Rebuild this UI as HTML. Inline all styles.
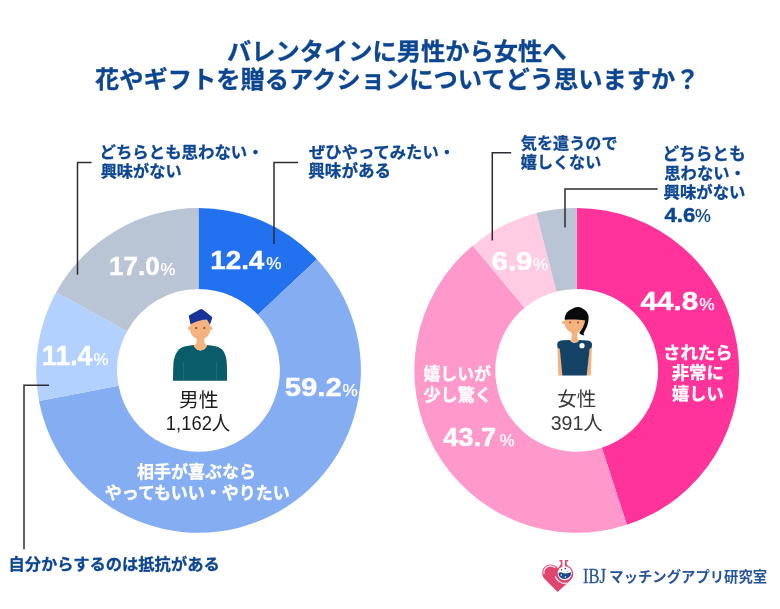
<!DOCTYPE html>
<html lang="ja">
<head>
<meta charset="utf-8">
<title>バレンタインに男性から女性へ花やギフトを贈るアクションについてどう思いますか？</title>
<style>
html,body{margin:0;padding:0;background:#fff;}
body{width:780px;height:609px;overflow:hidden;position:relative;font-family:"Liberation Sans","Noto Sans CJK JP",sans-serif;}
svg{position:absolute;left:0;top:0;display:block;}
.jb{font-family:"Liberation Sans","Noto Sans CJK JP",sans-serif;font-weight:700;stroke-width:.3px;stroke-linejoin:round;}
.jm{font-family:"Liberation Sans","Noto Sans CJK JP",sans-serif;font-weight:500;}
.jr{font-family:"Liberation Sans","Noto Sans CJK JP",sans-serif;font-weight:400;}
.nb{font-family:"Liberation Sans",sans-serif;font-weight:700;stroke-width:.4px;}
.nr{font-family:"Liberation Sans",sans-serif;font-weight:400;stroke-width:.25px;}
.ser{font-family:"Liberation Serif",serif;font-weight:400;stroke-width:.3px;}
.ld{fill:none;stroke:#2c2c32;stroke-width:1.5;}
</style>
</head>
<body>
<svg width="780" height="609" viewBox="0 0 780 609">
<rect width="780" height="609" fill="#fff"/>
<!-- donuts -->
<path d="M198.50 208.00A162.4 162.4 0 0 1 316.88 259.23L257.84 314.68A81.4 81.4 0 0 0 198.50 289.00Z" fill="#2272f0"/>
<path d="M316.88 259.23A162.4 162.4 0 1 1 39.03 401.11L118.57 385.79A81.4 81.4 0 1 0 257.84 314.68Z" fill="#85adf2"/>
<path d="M39.03 401.11A162.4 162.4 0 0 1 56.12 292.29L127.13 331.25A81.4 81.4 0 0 0 118.57 385.79Z" fill="#b3d1ff"/>
<path d="M56.12 292.29A162.4 162.4 0 0 1 198.50 208.00L198.50 289.00A81.4 81.4 0 0 0 127.13 331.25Z" fill="#b9c4d4"/>
<path d="M576.70 208.00A162.4 162.4 0 0 1 626.88 524.85L601.85 447.82A81.4 81.4 0 0 0 576.70 289.00Z" fill="#ff3399"/>
<path d="M626.88 524.85A162.4 162.4 0 0 1 472.75 245.63L524.60 307.86A81.4 81.4 0 0 0 601.85 447.82Z" fill="#ff99cc"/>
<path d="M472.75 245.63A162.4 162.4 0 0 1 536.31 213.10L556.46 291.56A81.4 81.4 0 0 0 524.60 307.86Z" fill="#ffcce4"/>
<path d="M536.31 213.10A162.4 162.4 0 0 1 576.70 208.00L576.70 289.00A81.4 81.4 0 0 0 556.46 291.56Z" fill="#b9c4d4"/>
<!-- leader lines -->
<path class="ld" d="M91.6 162.4H77.5V274.8"/>
<path class="ld" d="M298.1 162.4H274V244"/>
<path class="ld" d="M49 385.2H24V549.2"/>
<path class="ld" d="M511.2 152.7H492.3V240.4"/>
<path class="ld" d="M657.7 188.9H565V227.5"/>
<!-- text -->
<text class="jb" stroke="#0d4690" stroke-width=".55" x="227.00" y="59.85" font-size="24.25" fill="#0d4690">バレンタインに男性から女性へ</text>
<text class="jb" stroke="#0d4690" stroke-width=".55" x="94.95" y="88.40" font-size="24.28" fill="#0d4690">花やギフトを贈るアクションについてどう思いますか？</text>
<text class="jb" stroke="#0d4690" x="99.50" y="158.00" font-size="16.43" fill="#0d4690">どちらとも思わない・</text>
<text class="jb" stroke="#0d4690" x="100.70" y="177.32" font-size="16.20" fill="#0d4690">興味がない</text>
<text class="jb" stroke="#0d4690" x="309.05" y="158.38" font-size="16.32" fill="#0d4690">ぜひやってみたい・</text>
<text class="jb" stroke="#0d4690" x="308.35" y="177.25" font-size="16.53" fill="#0d4690">興味がある</text>
<text class="jb" stroke="#0d4690" x="520.85" y="149.12" font-size="16.11" fill="#0d4690">気を遣うので</text>
<text class="jb" stroke="#0d4690" x="520.85" y="167.75" font-size="16.10" fill="#0d4690">嬉しくない</text>
<text class="jb" stroke="#0d4690" x="662.50" y="159.93" font-size="16.64" fill="#0d4690">どちらとも</text>
<text class="jb" stroke="#0d4690" x="664.25" y="179.27" font-size="16.32" fill="#0d4690">思わない・</text>
<text class="jb" stroke="#0d4690" x="663.60" y="198.08" font-size="16.35" fill="#0d4690">興味がない</text>
<text class="jb" stroke="#0d4690" x="8.55" y="570.05" font-size="16.28" fill="#0d4690">自分からするのは抵抗がある</text>
<text class="nb" stroke="#0d4690" x="664.40" y="221.75" font-size="19.92" fill="#0d4690" textLength="30.84" lengthAdjust="spacingAndGlyphs">4.6</text>
<text class="nr" stroke="#0d4690" x="694.95" y="221.90" font-size="18.49" fill="#0d4690" textLength="15.85" lengthAdjust="spacingAndGlyphs">%</text>
<text class="jb" stroke="#fff" x="137.05" y="478.32" font-size="17.01" fill="#fff">相手が喜ぶなら</text>
<text class="jb" stroke="#fff" x="104.75" y="498.57" font-size="17.02" fill="#fff">やってもいい・やりたい</text>
<text class="jb" stroke="#fff" x="423.50" y="379.95" font-size="16.83" fill="#fff">嬉しいが</text>
<text class="jb" stroke="#fff" x="423.50" y="400.62" font-size="17.14" fill="#fff">少し驚く</text>
<text class="jb" stroke="#fff" x="663.00" y="359.25" font-size="17.44" fill="#fff">されたら</text>
<text class="jb" stroke="#fff" x="671.65" y="379.30" font-size="17.43" fill="#fff">非常に</text>
<text class="jb" stroke="#fff" x="672.00" y="400.15" font-size="17.22" fill="#fff">嬉しい</text>
<text class="nb" stroke="#fff" x="109.10" y="274.60" font-size="25.42" fill="#fff" textLength="50.46" lengthAdjust="spacingAndGlyphs">17.0</text>
<text class="nr" stroke="#fff" x="160.50" y="274.60" font-size="15.93" fill="#fff" textLength="14.95" lengthAdjust="spacingAndGlyphs">%</text>
<text class="nb" stroke="#fff" x="210.25" y="268.80" font-size="25.71" fill="#fff" textLength="54.06" lengthAdjust="spacingAndGlyphs">12.4</text>
<text class="nr" stroke="#fff" x="266.15" y="268.55" font-size="15.93" fill="#fff" textLength="15.29" lengthAdjust="spacingAndGlyphs">%</text>
<text class="nb" stroke="#fff" x="42.10" y="365.35" font-size="26.74" fill="#fff" textLength="50.26" lengthAdjust="spacingAndGlyphs">11.4</text>
<text class="nr" stroke="#fff" x="93.45" y="365.10" font-size="16.56" fill="#fff" textLength="15.05" lengthAdjust="spacingAndGlyphs">%</text>
<text class="nb" stroke="#fff" x="284.70" y="395.90" font-size="26.55" fill="#fff" textLength="57.15" lengthAdjust="spacingAndGlyphs">59.2</text>
<text class="nr" stroke="#fff" x="342.45" y="395.90" font-size="17.05" fill="#fff" textLength="15.32" lengthAdjust="spacingAndGlyphs">%</text>
<text class="nb" stroke="#fff" x="640.55" y="309.55" font-size="25.99" fill="#fff" textLength="57.68" lengthAdjust="spacingAndGlyphs">44.8</text>
<text class="nr" stroke="#fff" x="699.30" y="309.55" font-size="16.49" fill="#fff" textLength="15.43" lengthAdjust="spacingAndGlyphs">%</text>
<text class="nb" stroke="#fff" x="443.00" y="445.75" font-size="25.21" fill="#fff" textLength="53.28" lengthAdjust="spacingAndGlyphs">43.7</text>
<text class="nr" stroke="#fff" x="499.80" y="445.75" font-size="15.81" fill="#fff" textLength="14.86" lengthAdjust="spacingAndGlyphs">%</text>
<text class="nb" stroke="#fff" x="491.50" y="269.55" font-size="26.69" fill="#fff" textLength="40.95" lengthAdjust="spacingAndGlyphs">6.9</text>
<text class="nr" stroke="#fff" x="533.10" y="269.55" font-size="16.49" fill="#fff" textLength="15.10" lengthAdjust="spacingAndGlyphs">%</text>
<text class="jr" x="178.90" y="406.63" font-size="19.79" fill="#1c1c1c">男性</text>
<text class="jr" x="165.85" y="429.88" font-size="19.77" fill="#1c1c1c" textLength="64.40" lengthAdjust="spacingAndGlyphs">1,162人</text>
<text class="jr" x="557.15" y="406.43" font-size="19.55" fill="#3a3a3a">女性</text>
<text class="jr" x="550.75" y="429.92" font-size="19.70" fill="#3a3a3a" textLength="52.13" lengthAdjust="spacingAndGlyphs">391人</text>
<text class="ser" stroke="#27568f" x="582.90" y="582.80" font-size="20.30" fill="#27568f" textLength="23.00" lengthAdjust="spacingAndGlyphs">IBJ</text>
<text class="jb" x="609.35" y="581.78" font-size="14.35" fill="#24549a">マッチングアプリ研究室</text>
<!-- man icon -->
<g id="man">
<path d="M172.900 380.800L173.300 365.500C173.600 359 175 354.500 178.500 349.800C181 347.300 184.500 346.500 188.300 345.800L193.700 345.050C195.500 352.200 205.400 352.200 207.200 345.050L212.600 345.800C216.500 346.500 220 347.300 222.400 349.800C225.900 354.500 226.700 359 226.900 365.500L227.100 380.800Z" fill="#0b5c6b"/>
<path d="M183.500 362V380.800M216.600 362V380.800" stroke="#2f7f8a" stroke-width=".5" fill="none"/>
<path d="M196.600 334V342C196.600 344 195.300 344.800 193.700 345.050C195.500 352.200 205.400 352.200 207.200 345.050C205.600 344.800 204.400 344 204.400 342V334Z" fill="#f4b27e"/>
<path d="M190.200 320V330C190.400 334 193 337 196.200 338.300Q200.300 340.200 204.500 338.300C207.600 337 210 334 210.200 330V320C210.200 315 206 312 200.200 312C194.400 312 190.200 315 190.200 320Z" fill="#f4b27e"/>
<circle cx="189.800" cy="328.300" r="1.700" fill="#f4b27e"/><circle cx="210.700" cy="328.300" r="1.700" fill="#f4b27e"/>
<path d="M190.300 323.500L188.900 316.800Q188.700 315.600 189.800 315L199.800 309.500Q201.500 308.600 203 309.700L211.500 316.500Q212.500 317.400 212.100 318.600L210.300 323.600Q209.800 324.800 209.200 323.600C208 321 207.200 319.800 206 319.600C201 320 195.500 321.500 191.500 323.800Q190.500 324.400 190.300 323.500Z" fill="#17339a"/>
<circle cx="196.200" cy="328" r="1" fill="#7a4526"/><circle cx="204.300" cy="328" r="1" fill="#7a4526"/>
</g>
<!-- woman icon -->
<g id="woman">
<path d="M557.400 346.500L560.200 348.500L562.800 375.500H558.300ZM591.900 346.500L589.400 348.500L587 375.500H590.800Z" fill="#f4b27e"/>
<path d="M570.200 339.900L562.500 340.200C559 340.400 557.200 342 557.200 344.500L557.600 347.400L559.800 349L562.400 375.500H586.800L589.600 349L591.700 347.400L592.100 344.500C592.100 342 590.300 340.600 587 340.400L578.900 339.900C578 343.600 571.200 343.600 570.200 339.900Z" fill="#154267"/>
<path d="M571.600 330V338C571.600 339.200 571 339.800 570.200 339.900C571.200 343.600 578 343.600 578.900 339.900C578 339.800 577.400 339.200 577.400 338V330Z" fill="#f4b27e"/>
<path d="M564.800 317V324C565 328 568.500 331.500 572 332.800Q575 333.800 578 332.500C581.500 331 585 327 585.200 322V317Z" fill="#f4b27e"/>
<circle cx="563.900" cy="322.500" r="1.800" fill="#f4b27e"/>
<path d="M564.800 319.700C564.600 315 567 311.500 570.800 309.500C573 308.200 575.500 306.900 577.600 306.900C581 306.900 584.500 309 586.700 311.800C588.200 314 588.800 316 588.600 319C588.400 324 586.500 328 583.700 332.900C583.500 334 584 334.800 584.600 335.300C583 335.400 580.500 334.500 579.200 332.900C581.500 330 584.300 326 585.200 320.500C578 319.200 571 319.400 564.800 319.700Z" fill="#0a0a0a"/>
<circle cx="582" cy="345.700" r="2.600" fill="#fff"/><circle cx="582.200" cy="345.900" r=".7" fill="#f8dcc8"/>
<circle cx="570.100" cy="322.500" r=".9" fill="#8a3a4a"/><circle cx="578" cy="322.500" r=".9" fill="#8a3a4a"/>
</g>
<!-- logo -->
<g id="logo">
<path d="M557.600 592L544 578.200C541.200 574.500 541.600 568.500 546 565.800C550 563.500 555 564.500 557.800 568.300C559.500 566.200 560.800 565.300 560.800 563.500V561.400H559.500V560H568.200V561.400H566.600V563.500C566.600 565.300 568.500 566 570.200 567.300C573.800 570.300 574.300 576 571.200 579.500Z" fill="#e0446f"/>
<circle cx="564.700" cy="573.300" r="7" fill="#fff"/>
<rect x="562.400" y="560" width="2.600" height="8" fill="#fff"/>
<path d="M558.300 573.200Q560.300 571.600 562.500 572.700T567 573.300T571.100 572.200A6.400 6.400 0 0 1 558.300 573.200Z" fill="#1d4a8c"/>
<circle cx="561.300" cy="575" r=".8" fill="#fff"/><circle cx="565.400" cy="577" r=".8" fill="#fff"/>
<circle cx="561.500" cy="569.800" r=".7" fill="#1d4a8c"/><circle cx="565.300" cy="568.600" r=".8" fill="#1d4a8c"/><circle cx="567.300" cy="571.300" r=".6" fill="#7f9cc4"/>
<path d="M543.97 573.63A6.7 6.7 0 0 1 554.91 567.57" fill="none" stroke="#fff" stroke-width="1.100" stroke-linecap="round"/>
<path d="M555.40 576.69A9.9 9.9 0 0 0 566.76 582.98" fill="none" stroke="#fff" stroke-width="1.100" stroke-linecap="round"/>
</g>
</svg>
</body>
</html>
